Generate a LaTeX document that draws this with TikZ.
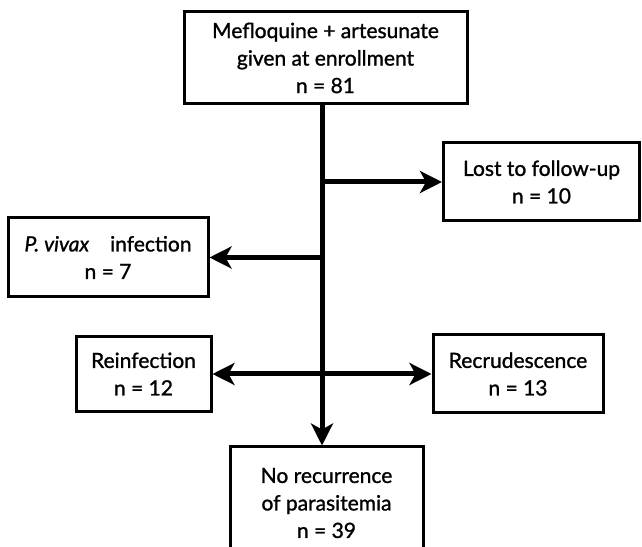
\documentclass[tikz,border=0pt]{standalone}
\usepackage{fontspec}
\setmainfont{Lato}[UprightFeatures={FakeBold=1.2},ItalicFeatures={FakeBold=1.2}]
\usetikzlibrary{arrows.meta}

\begin{document}
\begin{tikzpicture}[x=1pt,y=1pt,
 		box/.style={draw,line width=3pt,align=center,inner sep=0pt,
 			font=\fontsize{21}{27.5}\selectfont},
 		flow/.style={line width=5pt,-{Stealth[length=22pt,width=22pt,inset=6pt]}},
 		bothflow/.style={line width=5pt,{Stealth[length=22pt,width=22pt,inset=6pt]}-{Stealth[length=22pt,width=22pt,inset=6pt]}}]
 		\clip (0,0) rectangle (642,546);
 		\fill[white] (0,0) rectangle (642,546);
 		\node[box,minimum width=283pt,minimum height=92pt] (enrol) at (325.5,488) {Mefloquine + artesunate\\given at enrollment\\n = 81};
 		\node[box,minimum width=196pt,minimum height=78pt] (lost) at (541.5,364) {Lost to follow-up\\n = 10};
 		\node[box,minimum width=200pt,minimum height=79pt] (vivax) at (108,288.5) {\textit{P. vivax}\quad infection\\n = 7};
 		\node[box,minimum width=135pt,minimum height=75pt] (reinf) at (143.5,172) {Reinfection\\n = 12};
 		\node[box,minimum width=170pt,minimum height=78pt] (recrud) at (518,172) {Recrudescence\\n = 13};
 		\node[box,minimum width=193pt,minimum height=112pt] (norec) at (326.5,43) {No recurrence\\of parasitemia\\n = 39};
 		\coordinate (spine) at (322,0);
 		\coordinate (tolost) at (322,364);
 		\coordinate (tovivax) at (322,288.5);
 		\draw[flow] (spine |- enrol.south) -- (spine |- norec.north);
 		\draw[flow] (tolost) -- (lost);
 		\draw[flow] (tovivax) -- (vivax);
 		\draw[bothflow] (reinf) -- (recrud);
 	\end{tikzpicture}
\end{document}
